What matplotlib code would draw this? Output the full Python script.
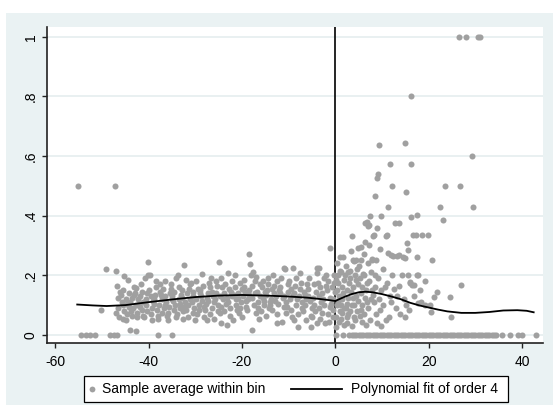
import matplotlib
matplotlib.use("Agg")
import matplotlib.pyplot as plt
import numpy as np
from matplotlib.lines import Line2D
from matplotlib.patches import Rectangle

plt.rcParams["font.family"] = ["Liberation Sans", "DejaVu Sans"]

# bin averages (x = running variable, y = share)
left_outliers = [(-55.2, 0.5), (-47.2, 0.5), (-50.3, 0.084), (-49.2, 0.221),
                 (-47.0, 0.215), (-44.0, 0.017), (-42.8, 0.013), (-40.2, 0.246),
                 (-17.8, 0.016)]

left_cloud = [
    (-46.8, .165), (-46.5, .09), (-46.3, .06), (-46.6, .125), (-46.2, .145), (-46.9, .075),
    (-45.8, .11), (-45.5, .15), (-45.3, .196), (-45.6, .055), (-45.2, .08), (-45.9, .135), (-45.4, .1),
    (-44.8, .12), (-44.4, .184), (-44.6, .07), (-44.2, .095), (-44.9, .05), (-44.3, .14), (-44.7, .105),
    (-43.8, .08), (-43.5, .125), (-43.2, .16), (-43.6, .065), (-43.9, .11), (-43.3, .09), (-43.1, .135),
    (-42.8, .1), (-42.7, .156), (-42.4, .075), (-42.2, .12), (-42.9, .14), (-42.5, .06), (-42.1, .105),
    (-41.8, .13), (-41.5, .085), (-41.3, .11), (-41.6, .17), (-41.2, .065), (-41.9, .095), (-41.4, .145),
    (-40.8, .19), (-40.5, .12), (-40.3, .08), (-40.6, .1), (-40.2, .2), (-40.9, .06), (-40.4, .14),
    (-39.8, .2), (-39.5, .13), (-39.2, .09), (-39.6, .07), (-39.1, .115), (-39.9, .15), (-39.3, .05),
    (-38.8, .105), (-38.5, .16), (-38.3, .085), (-38.6, .135), (-38.1, .065), (-38.9, .12), (-38.4, .18),
    (-37.8, .1), (-37.5, .145), (-37.2, .075), (-37.6, .17), (-37.1, .12), (-37.9, .055), (-37.3, .135),
    (-36.8, .09), (-36.5, .18), (-36.2, .11), (-36.6, .13), (-36.1, .065), (-36.9, .155), (-36.4, .1),
    (-35.8, .05), (-35.5, .14), (-35.2, .17), (-35.6, .095), (-35.1, .12), (-35.9, .075), (-35.3, .155),
    (-34.8, .115), (-34.5, .085), (-34.2, .19), (-34.6, .145), (-34.1, .06), (-34.9, .13), (-34.4, .1),
    (-33.8, .2), (-33.5, .12), (-33.2, .09), (-33.6, .16), (-33.1, .135), (-33.9, .07), (-33.3, .105),
    (-32.8, .15), (-32.5, .235), (-32.2, .11), (-32.6, .08), (-32.1, .185), (-32.9, .125), (-32.4, .095),
    (-32.7, .055),
    (-31.8, .14), (-31.5, .061), (-31.2, .17), (-31.6, .1), (-31.1, .12), (-31.9, .085), (-31.3, .155),
    (-30.8, .11), (-30.5, .145), (-30.1, .05), (-30.6, .13), (-30.2, .09), (-30.9, .175), (-30.4, .075),
    (-29.8, .12), (-29.5, .155), (-29.2, .1), (-29.6, .07), (-29.1, .14), (-29.9, .18), (-29.3, .085),
    (-28.8, .13), (-28.5, .203), (-28.2, .095), (-28.6, .115), (-28.1, .06), (-28.9, .15), (-28.4, .165),
    (-27.8, .105), (-27.6, .05), (-27.2, .14), (-27.5, .125), (-27.1, .175), (-27.9, .085), (-27.3, .115),
    (-26.8, .16), (-26.5, .09), (-26.2, .13), (-26.6, .19), (-26.1, .11), (-26.9, .07), (-26.4, .145),
    (-25.8, .12), (-25.5, .18), (-25.2, .08), (-25.6, .14), (-25.1, .1), (-25.9, .055), (-25.3, .165),
    (-24.9, .246), (-24.8, .13), (-24.5, .095), (-24.2, .16), (-24.6, .04), (-24.1, .12), (-24.4, .19),
    (-24.7, .075),
    (-23.8, .14), (-23.5, .105), (-23.3, .034), (-23.1, .207), (-23.6, .17), (-23.9, .08), (-23.2, .125),
    (-22.8, .155), (-22.5, .09), (-22.2, .13), (-22.6, .065), (-22.1, .18), (-22.9, .11), (-22.4, .145),
    (-21.9, .05), (-21.5, .2), (-21.2, .12), (-21.6, .16), (-21.1, .085), (-21.8, .135), (-21.3, .1),
    (-20.8, .14), (-20.5, .175), (-20.2, .11), (-20.6, .075), (-20.1, .155), (-20.9, .125), (-20.4, .09),
    (-19.8, .13), (-19.5, .16), (-19.2, .095), (-19.6, .185), (-19.1, .115), (-19.9, .06), (-19.3, .145),
    (-18.8, .12), (-18.5, .27), (-18.3, .237), (-18.6, .15), (-18.1, .2), (-18.9, .085), (-18.4, .135),
    (-17.8, .165), (-17.5, .1), (-17.2, .14), (-17.6, .21), (-17.1, .075), (-17.9, .125), (-17.3, .18),
    (-16.8, .145), (-16.5, .11), (-16.2, .17), (-16.6, .09), (-16.1, .13), (-16.9, .195), (-16.4, .055),
    (-15.8, .16), (-15.5, .125), (-15.2, .1), (-15.6, .18), (-15.1, .145), (-15.9, .08), (-15.3, .115),
    (-14.8, .135), (-14.5, .17), (-14.2, .09), (-14.6, .15), (-14.1, .11), (-14.9, .065), (-14.4, .19),
    (-13.8, .12), (-13.5, .155), (-13.3, .2), (-13.6, .085), (-13.1, .14), (-13.9, .1), (-13.2, .165),
    (-12.8, .13), (-12.5, .18), (-12.2, .105), (-12.6, .07), (-12.1, .15), (-12.9, .115), (-12.4, .04),
    (-11.8, .16), (-11.5, .045), (-11.2, .125), (-11.6, .19), (-11.1, .095), (-11.9, .14), (-11.0, .223),
    (-10.8, .22), (-10.5, .11), (-10.2, .145), (-10.6, .075), (-10.1, .17), (-10.9, .13), (-10.4, .095),
    (-9.8, .12), (-9.5, .155), (-9.0, .226), (-9.6, .085), (-9.1, .135), (-9.9, .18), (-9.3, .06),
    (-8.8, .14), (-8.5, .1), (-8.1, .026), (-8.6, .165), (-8.2, .12), (-8.9, .05), (-8.4, .19),
    (-7.8, .13), (-7.6, .207), (-7.2, .09), (-7.5, .155), (-7.1, .11), (-7.9, .07), (-7.3, .175),
    (-6.8, .145), (-6.3, .05), (-6.2, .12), (-6.6, .1), (-6.1, .17), (-6.9, .08), (-6.4, .135),
    (-5.8, .155), (-5.5, .115), (-5.2, .026), (-5.6, .19), (-5.1, .09), (-5.9, .13), (-5.3, .065),
    (-4.8, .125), (-4.5, .17), (-4.0, .207), (-4.6, .1), (-4.1, .145), (-4.9, .06), (-4.3, .08),
    (-4.0, .039),
    (-3.9, .224), (-3.6, .226), (-3.5, .13), (-3.2, .16), (-3.6, .09), (-3.1, .11), (-3.8, .175),
    (-3.3, .055),
    (-2.8, .14), (-2.5, .19), (-2.2, .041), (-2.6, .12), (-2.1, .165), (-2.9, .075), (-2.4, .1),
    (-1.8, .15), (-1.5, .07), (-1.2, .125), (-1.1, .29), (-1.6, .18), (-1.1, .095), (-1.9, .2),
    (-1.3, .045),
    (-0.8, .16), (-0.5, .12), (-0.2, .2), (-0.6, .085), (-0.1, .145), (-0.9, .105), (-0.3, .175),
    (-0.4, .06),
]

right_cloud = [
    (0.1, .028), (0.2, .06), (0.3, .1), (0.4, .15), (0.5, .2), (0.6, .175), (0.8, .13), (0.9, .08),
    (0.2, .185), (0.7, .045), (0.4, .24), (0.9, .215), (0.6, .11),
    (1.1, .262), (1.7, .26), (1.2, .21), (1.4, .16), (1.5, .12), (1.8, .09), (1.3, .055), (1.9, .185),
    (1.6, .14), (1.2, .1), (1.9, .035), (1.5, .075),
    (2.1, .2), (2.4, .15), (2.6, .105), (2.8, .07), (2.3, .23), (2.9, .175), (2.5, .04), (2.7, .125),
    (2.2, .09), (2.8, .21), (2.4, .06),
    (3.3, .283), (3.5, .332), (3.8, .251), (3.1, .19), (3.4, .145), (3.6, .1), (3.9, .06), (3.2, .215),
    (3.7, .16), (3.2, .08), (3.8, .125), (3.5, .03),
    (4.0, .249), (4.5, .251), (4.9, .29), (4.2, .2), (4.4, .13), (4.7, .08), (4.8, .17), (4.3, .05),
    (4.6, .22), (4.1, .1), (4.9, .115), (4.5, .185),
    (5.5, .296), (5.6, .251), (5.2, .19), (5.4, .14), (5.8, .1), (5.3, .065), (5.9, .205), (5.7, .16),
    (5.1, .23), (5.8, .045), (5.5, .085),
    (6.3, .31), (6.3, .376), (6.8, .38), (6.1, .2), (6.5, .15), (6.7, .11), (6.2, .07), (6.9, .24),
    (6.6, .035), (6.1, .27), (6.8, .175), (6.4, .125),
    (7.0, .365), (7.2, .369), (7.5, .40), (7.8, .254), (7.9, .25), (7.3, .18), (7.6, .12), (7.1, .09),
    (7.7, .21), (7.4, .05), (7.2, .3), (7.9, .15),
    (8.3, .334), (8.1, .332), (8.5, .467), (8.6, .16), (8.2, .11), (8.8, .07), (8.4, .2), (8.9, .04),
    (8.7, .25), (8.1, .135),
    (9.0, .358), (9.0, .525), (9.2, .54), (9.45, .637), (9.5, .287), (9.7, .4), (9.7, .031), (9.3, .12),
    (9.8, .15), (9.6, .085), (9.1, .19),
    (10.8, .333), (11.0, .334), (11.3, .43), (11.3, .274), (11.7, .572), (11.9, .268), (12.1, .5),
    (12.2, .2), (10.3, .1), (10.6, .16), (11.5, .06), (11.8, .13), (10.9, .05), (12.0, .11),
    (10.2, .22), (11.1, .175),
    (12.4, .265), (12.7, .377), (13.2, .265), (13.6, .377), (13.6, .268), (13.6, .165), (12.9, .09),
    (13.3, .13), (12.6, .155), (13.9, .07),
    (14.3, .2), (14.5, .26), (15.0, .257), (15.0, .642), (15.1, .48), (15.3, .307), (15.5, .2),
    (15.6, .285), (15.9, .179), (15.8, .084), (14.7, .12), (15.2, .1), (14.9, .06),
    (16.0, .175), (16.3, .8), (16.3, .394), (16.3, .573), (16.5, .168), (16.6, .334), (16.8, .168),
    (17.2, .334), (17.5, .402), (17.5, .262), (17.4, .2), (17.7, .106), (17.8, .2), (16.9, .13),
    (18.6, .334), (19.2, .182), (19.3, .1), (19.8, .334), (20.3, .1), (20.6, .076), (20.8, .251),
    (21.1, .126), (21.8, .143), (22.4, .43), (23.1, .385), (23.5, .5), (18.3, .112), (18.2, .15),
    (24.5, .126), (24.7, .059), (26.6, 1.0), (26.8, .5), (26.9, .167), (29.2, .6), (28.0, 1.0),
    (29.4, .43), (30.6, 1.0), (31.1, 1.0),
]

# bins with a zero average
zero_x_left = [-54.4, -53.5, -52.5, -51.4, -48.3, -47.4, -46.7, -38.0, -35.0]
zero_x_right = [0.1, 1.7, 3.0, 3.5, 4.0, 4.5, 5.0, 5.5, 6.0, 6.5, 7.0, 7.5, 8.0, 8.5, 9.0, 9.5,
                10.0, 10.5, 11.0, 11.5, 12.0, 12.5, 13.0, 13.5, 14.0, 14.5, 15.0, 15.5, 16.0,
                16.5, 17.0, 17.5, 18.0, 18.5, 19.0, 19.5, 20.0, 20.5, 21.0, 21.5, 22.0, 22.5,
                23.0, 23.5, 24.0, 24.5, 25.0, 25.5, 26.0, 26.5, 27.0, 27.5, 28.0, 28.5, 29.0,
                29.5, 30.0, 30.5, 31.0, 31.5, 32.0, 32.5, 33.0, 33.5, 34.0, 34.5,
                35.8, 37.5, 39.2, 40.0, 42.9]

fit_left_x = [-55.3, -52, -49, -45, -40, -35, -30, -25, -20, -15, -10, -6, -3, 0]
fit_left_y = [0.102, 0.099, 0.097, 0.100, 0.110, 0.119, 0.127, 0.132, 0.134, 0.132,
              0.129, 0.125, 0.120, 0.114]
fit_right_x = [0, 1, 2, 3.5, 5, 6.5, 8, 10, 12, 14, 16, 18, 20, 22, 24, 27, 30, 33, 36,
               39, 41, 42.5]
fit_right_y = [0.114, 0.121, 0.128, 0.137, 0.143, 0.145, 0.143, 0.137, 0.129, 0.120,
               0.108, 0.099, 0.092, 0.085, 0.079, 0.074, 0.074, 0.077, 0.082, 0.083,
               0.081, 0.076]

x_ticks = [-60, -40, -20, 0, 20, 40]
y_ticks = [0, 0.2, 0.4, 0.6, 0.8, 1.0]
y_tick_labels = ["0", ".2", ".4", ".6", ".8", "1"]

dot_color = "#a0a0a0"
bg_color = "#eaf2f3"

W, H = 553, 412
fig = plt.figure(figsize=(W / 100, H / 100), dpi=100)
fig.patch.set_facecolor("white")
fig.patches.append(Rectangle((6 / W, 1 - 405 / H), 1 - 6 / W, (405 - 13) / H,
                             transform=fig.transFigure, facecolor=bg_color,
                             edgecolor="none", zorder=-10))

ax = fig.add_axes([46.9 / W, 1 - 343 / H, (543 - 46.9) / W, (343 - 27.3) / H])
ax.set_zorder(1)
ax.set_facecolor("white")
ax.set_xlim(-61.8, 44.5)
ax.set_ylim(-0.027, 1.0315)

for yv in y_ticks:
    ax.axhline(yv, color="#e3ecee", lw=1.1, zorder=1)

ax.axvline(0, color="black", lw=1.2, zorder=2)

pts = np.array(left_outliers + left_cloud + right_cloud)
zeros_x = np.array(zero_x_left + zero_x_right)
ax.scatter(pts[:, 0], pts[:, 1], s=19, color=dot_color, linewidths=0, zorder=3)
ax.scatter(zeros_x, np.zeros_like(zeros_x), s=19, color=dot_color, linewidths=0, zorder=3)

ax.plot(fit_left_x, fit_left_y, color="black", lw=1.3, zorder=4)
ax.plot(fit_right_x, fit_right_y, color="black", lw=1.3, zorder=4)

for side in ("top", "right"):
    ax.spines[side].set_visible(False)
for side in ("left", "bottom"):
    ax.spines[side].set_color("#222222")
    ax.spines[side].set_linewidth(1.2)

ax.set_xticks(x_ticks)
ax.set_xticklabels([str(v) for v in x_ticks])
ax.set_yticks(y_ticks)
ax.set_yticklabels(y_tick_labels, rotation=90, va="center")
ax.tick_params(axis="both", direction="out", length=3.6, width=1.0, color="#222222",
               labelsize=10, labelcolor="black")
ax.tick_params(axis="x", pad=5)
ax.tick_params(axis="y", pad=3)

# legend box below the plot, drawn by hand to keep Stata's layout
fig.patches.append(Rectangle((83.6 / W, 1 - 401.7 / H), (508 - 83.6) / W, 25.7 / H,
                             transform=fig.transFigure, facecolor="white",
                             edgecolor="black", lw=0.9, zorder=5))
ly = 1 - 389 / H
fig.lines.append(Line2D([92.4 / W], [ly], transform=fig.transFigure, marker="o",
                        markersize=4.2, color=dot_color, markeredgewidth=0, zorder=6))
fig.text(102 / W, ly, "Sample average within bin", fontsize=10, va="center", ha="left", zorder=6)
fig.lines.append(Line2D([291 / W, 342 / W], [ly, ly], transform=fig.transFigure,
                        color="black", lw=1.3, zorder=6))
fig.text(351 / W, ly, "Polynomial fit of order 4", fontsize=10, va="center", ha="left", zorder=6)

fig.savefig("out.png", dpi=100, facecolor=fig.get_facecolor())
